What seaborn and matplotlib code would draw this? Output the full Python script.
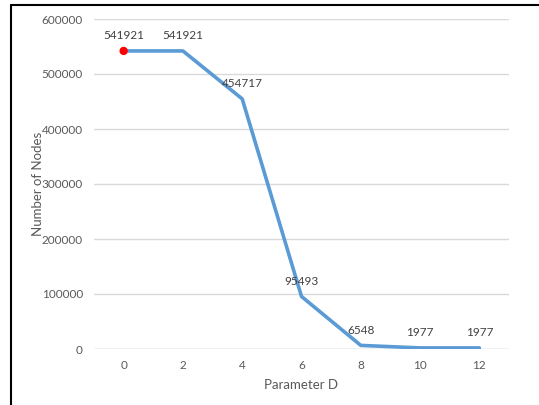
import numpy as np
import pandas as pd
import matplotlib
matplotlib.use("Agg")
import matplotlib.pyplot as plt
import seaborn as sns
from matplotlib.lines import Line2D

param_d = [0, 2, 4, 6, 8, 10, 12]
num_nodes = [541921, 541921, 454717, 95493, 6548, 1977, 1977]
y_ticks = [0, 100000, 200000, 300000, 400000, 500000, 600000]

TEXT = "#595959"
BLUE = "#5B9BD5"

sns.set_theme(style="white")
plt.rcParams['font.family'] = ['Lato', 'DejaVu Sans']

df = pd.DataFrame({"Parameter D": param_d, "Number of Nodes": num_nodes})

fig = plt.figure(figsize=(5.39, 4.05), dpi=100)
ax = fig.add_axes([94 / 539, 1 - 349 / 405, (509 - 94) / 539, (349 - 19) / 405])

sns.lineplot(data=df, x="Parameter D", y="Number of Nodes", ax=ax,
             color=BLUE, linewidth=2.6, zorder=3)
# first point highlighted in red
ax.scatter(df["Parameter D"].iloc[:1], df["Number of Nodes"].iloc[:1],
           color="#FF0000", s=36, zorder=4, edgecolor="none")

for x, y in zip(param_d, num_nodes):
    ax.annotate(str(y), (x, y), xytext=(0, 7), textcoords="offset points",
                ha="center", va="bottom", fontsize=8.5, color="#404040")

ax.set_xlim(-1, 13)
ax.set_ylim(0, 600000)
ax.set_xticks(param_d)
ax.set_yticks(y_ticks)
ax.yaxis.grid(True, color="#D9D9D9", linewidth=1)
ax.set_axisbelow(True)
for s in ax.spines.values():
    s.set_visible(False)
ax.axhline(0, color="#D9D9D9", linewidth=1, zorder=1)
ax.tick_params(axis="both", length=0, labelsize=8.5, labelcolor=TEXT, pad=8)
ax.set_xlabel("Parameter D", fontsize=9.5, color=TEXT, labelpad=6)
ax.set_ylabel("Number of Nodes", fontsize=9.5, color=TEXT, labelpad=-2)

# outer frame (left and top edges visible)
fig.add_artist(Line2D([10.5 / 539, 10.5 / 539], [0, 1 - 4.5 / 405],
                      transform=fig.transFigure, color="black", linewidth=1.5))
fig.add_artist(Line2D([10.5 / 539, 1], [1 - 4.5 / 405, 1 - 4.5 / 405],
                      transform=fig.transFigure, color="black", linewidth=1.5))

fig.savefig("out.png", dpi=100)
